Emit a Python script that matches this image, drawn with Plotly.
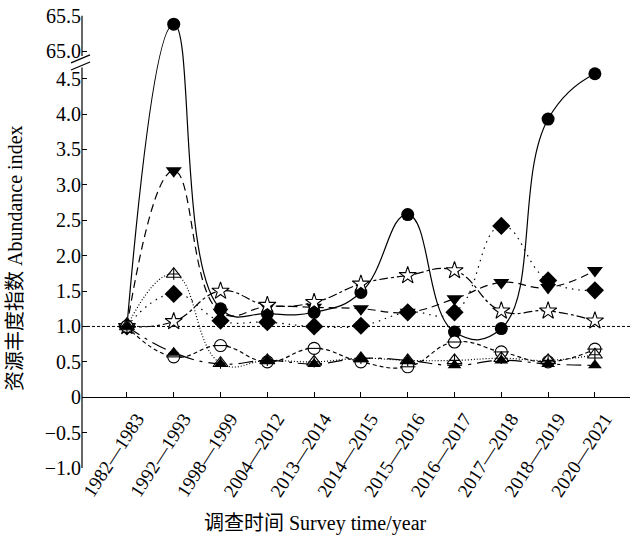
import plotly.graph_objects as go

# ---------------- data ----------------
periods = ["1982—1983", "1992—1993", "1998—1999", "2004—2012", "2013—2014",
           "2014—2015", "2015—2016", "2016—2017", "2017—2018", "2018—2019", "2020—2021"]

s_circle  = [1.0, 65.38, 1.25, 1.18, 1.20, 1.48, 2.58, 0.92, 0.97, 3.93, 4.57]
s_tridown = [1.0, 3.20, 1.20, 1.28, 1.27, 1.25, 1.20, 1.39, 1.62, 1.55, 1.79]
s_diamond = [1.0, 1.46, 1.08, 1.06, 1.00, 1.01, 1.20, 1.20, 2.42, 1.65, 1.51]
s_star    = [1.0, 1.07, 1.50, 1.30, 1.34, 1.60, 1.72, 1.79, 1.22, 1.22, 1.08]
s_ocircle = [1.0, 0.57, 0.73, 0.50, 0.69, 0.50, 0.43, 0.78, 0.64, 0.50, 0.68]
s_otri    = [1.0, 1.74, 0.48, 0.52, 0.50, 0.55, 0.52, 0.52, 0.55, 0.52, 0.60]
s_ftri    = [1.0, 0.63, 0.47, 0.52, 0.47, 0.55, 0.52, 0.45, 0.52, 0.47, 0.45]

y_ticks_low = [-1.0, -0.5, 0, 0.5, 1.0, 1.5, 2.0, 2.5, 3.0, 3.5, 4.0, 4.5]
y_ticks_high = [65.0, 65.5]

# ---------------- broken-axis scale ----------------
BREAK_FROM = 65.0   # upper segment starts here
BREAK_TO = 4.89     # position on the drawn scale where 65.0 is placed


def brk(v):
    return v - BREAK_FROM + BREAK_TO if v > 10 else v


x_idx = list(range(len(periods)))
FONT = "Liberation Serif, Times New Roman, Noto Sans CJK SC, serif"

fig = go.Figure()

# reference line at 1.0
fig.add_shape(type="line", xref="paper", x0=0, x1=1, yref="y", y0=1.0, y1=1.0,
              line=dict(color="black", width=1, dash="3px,2px"), layer="below")

series = [
    (s_circle, "solid", dict(symbol="circle", size=13, color="black")),
    (s_tridown, "8px,5px", dict(symbol="triangle-down", size=14, color="black")),
    (s_diamond, "1.5px,5px", dict(symbol="diamond", size=14, color="black")),
    (s_star, "dashdot", dict(symbol="star", size=13, color="white",
                             line=dict(color="black", width=1.1))),
    (s_ocircle, "4px,3px", dict(symbol="circle", size=12, color="white",
                                line=dict(color="black", width=1.1))),
    (s_otri, "1px,2px", dict(symbol="triangle-up", size=13, color="white",
                             line=dict(color="black", width=1.1))),
    (s_ftri, "longdashdot", dict(symbol="triangle-up", size=12, color="black")),
]

for vals, dash, mk in series:
    fig.add_trace(go.Scatter(
        x=x_idx, y=[brk(v) for v in vals], mode="lines+markers",
        line=dict(color="black", width=1.2, dash=dash, shape="spline", smoothing=1.3),
        marker=mk, showlegend=False, cliponaxis=False))

# inner strokes of the open-circle and open-triangle markers
fig.add_trace(go.Scatter(x=x_idx, y=[brk(v) for v in s_ocircle], mode="markers",
                         marker=dict(symbol="line-ew", size=11, line=dict(color="black", width=1.1)),
                         showlegend=False, cliponaxis=False))
fig.add_trace(go.Scatter(x=x_idx, y=[brk(v) for v in s_otri], mode="markers",
                         marker=dict(symbol="cross-thin", size=8, line=dict(color="black", width=1.1)),
                         showlegend=False, cliponaxis=False))

# y-axis line with break
y_lo, y_hi = -1.0, 5.40
fig.add_shape(type="line", xref="paper", x0=0, x1=0, yref="y", y0=y_lo, y1=4.66,
              line=dict(color="black", width=1.2))
fig.add_shape(type="line", xref="paper", x0=0, x1=0, yref="y", y0=4.82, y1=brk(65.5),
              line=dict(color="black", width=1.2))
for ya in (4.78, 4.68):
    fig.add_shape(type="line", xref="paper", xsizemode="pixel", xanchor=0, x0=-11, x1=8,
                  yref="y", ysizemode="pixel", yanchor=ya, y0=-4, y1=4,
                  line=dict(color="black", width=1.2))

tickvals = y_ticks_low + [brk(v) for v in y_ticks_high]
ticktext = [("−" if v < 0 else "") + (f"{abs(v):.1f}" if v != 0 else "0") for v in y_ticks_low] + \
           [f"{v:.1f}" for v in y_ticks_high]

fig.update_layout(
    width=630, height=538,
    margin=dict(l=82, r=0, t=15, b=70, autoexpand=False),
    paper_bgcolor="white", plot_bgcolor="white",
    font=dict(family=FONT, size=19, color="black"),
    xaxis=dict(range=[-0.96, 10.75], tickvals=x_idx, ticktext=periods, tickangle=-57,
               showgrid=False, zeroline=False, showline=True, linecolor="black", linewidth=1.2,
               ticks="inside", ticklen=5, tickwidth=1, tickcolor="black",
               anchor="free", position=(0 - y_lo) / (y_hi - y_lo), automargin=False,
               ticklabelshift=10, ticklabelstandoff=2,
               tickfont=dict(family=FONT, size=19)),
    yaxis=dict(range=[y_lo, y_hi], tickvals=tickvals, ticktext=ticktext, automargin=False,
               showgrid=False, zeroline=False, showline=False,
               ticks="inside", ticklen=5, tickwidth=1, tickcolor="black",
               tickfont=dict(family=FONT, size=20)),
    annotations=[
        dict(text="资源丰度指数 Abundance index", xref="paper", yref="paper",
             x=(15 - 82) / 548, y=(468 - 258) / 453, textangle=-90, showarrow=False,
             xanchor="center", yanchor="middle", font=dict(family=FONT, size=20)),
        dict(text="调查时间 Survey time/year", xref="paper", yref="paper",
             x=(315 - 82) / 548, y=(468 - 523) / 453, showarrow=False,
             xanchor="center", yanchor="middle", font=dict(family=FONT, size=20)),
    ],
)

fig.write_html("out.html", config={"displayModeBar": False},
               post_script="document.body.style.margin='0';document.body.style.overflow='hidden';")
